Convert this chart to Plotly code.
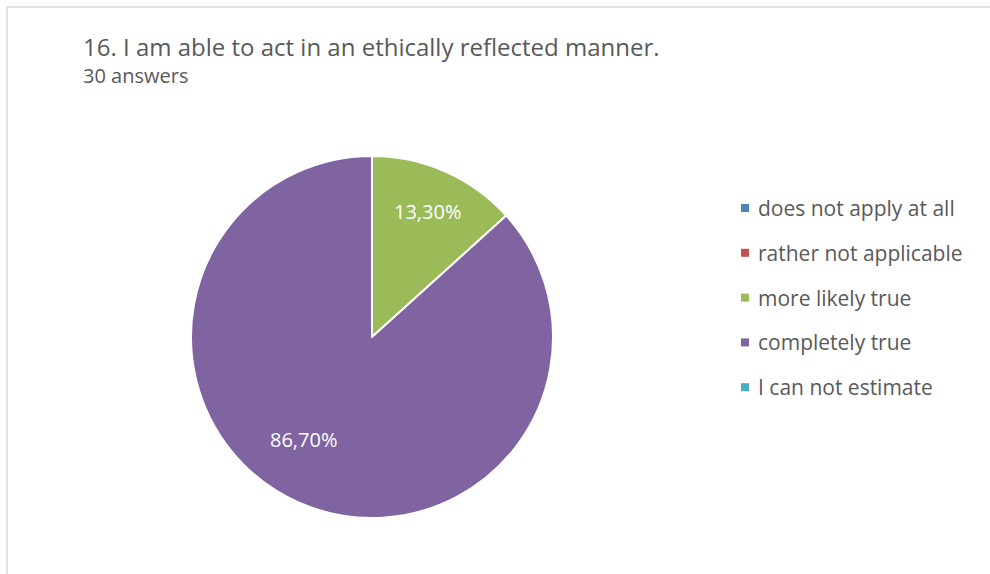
import math
import plotly.graph_objects as go

W, H = 990, 574

title = "16. I am able to act in an ethically reflected manner."
subtitle = "30 answers"
categories = ["does not apply at all", "rather not applicable",
              "more likely true", "completely true", "I can not estimate"]
shares = [0.0, 0.0, 13.3, 86.7, 0.0]
colors = ["#4F81BD", "#C0504D", "#9BBB59", "#8064A2", "#4BACC6"]

FONT = "Open Sans"
TEXT = "#595959"

# pie geometry in pixels
cx, cy, r = 372, 337, 181
# data label placement per slice: (radius fraction, angle nudge in degrees)
label_place = [(0.7, 0), (0.7, 0), (0.76, 0), (0.68, 10), (0.7, 0)]


def px(x):
    return x / W


def py(y):
    return 1 - y / H


def fmt(v):
    return ("%.2f%%" % v).replace(".", ",")


fig = go.Figure(go.Pie(
    labels=categories,
    values=shares,
    marker=dict(colors=colors, line=dict(color="white", width=2)),
    sort=False,
    direction="clockwise",
    rotation=0,
    textinfo="none",
    domain=dict(x=[px(cx - r), px(cx + r)], y=[py(cy + r), py(cy - r)]),
    showlegend=False,
    hoverinfo="label+percent",
))

shapes = [dict(type="rect", xref="paper", yref="paper",
               x0=px(7), x1=px(W + 20), y0=py(H + 20), y1=py(7),
               line=dict(color="#D9D9D9", width=1.5), fillcolor="rgba(0,0,0,0)")]

annotations = [
    dict(text=title, x=px(81), y=py(46), xref="paper", yref="paper",
         xanchor="left", yanchor="middle", showarrow=False,
         font=dict(family=FONT, size=24, color=TEXT)),
    dict(text=subtitle, x=px(81), y=py(75), xref="paper", yref="paper",
         xanchor="left", yanchor="middle", showarrow=False,
         font=dict(family=FONT, size=20, color=TEXT)),
]

# data labels at each slice's mid angle (clockwise from 12 o'clock)
total = sum(shares)
start = 0.0
for v, (frac, nudge) in zip(shares, label_place):
    sweep = 360.0 * v / total
    if v > 0:
        a = math.radians(start + sweep / 2 + nudge)
        lx = cx + frac * r * math.sin(a)
        ly = cy - frac * r * math.cos(a)
        annotations.append(dict(text=fmt(v), x=px(lx), y=py(ly), xref="paper", yref="paper",
                                xanchor="center", yanchor="middle", showarrow=False,
                                font=dict(family=FONT, size=20, color="white")))
    start += sweep

# legend: square swatch + label per category
row0, step = 208, 44.8
for i, (cat, col) in enumerate(zip(categories, colors)):
    yc = row0 + i * step
    shapes.append(dict(type="rect", xref="paper", yref="paper",
                       x0=px(741), x1=px(749), y0=py(yc + 4), y1=py(yc - 4),
                       line=dict(width=0), fillcolor=col))
    annotations.append(dict(text=cat, x=px(756), y=py(yc), xref="paper", yref="paper",
                            xanchor="left", yanchor="middle", showarrow=False,
                            font=dict(family=FONT, size=21, color=TEXT)))

fig.update_layout(
    width=W, height=H,
    margin=dict(l=0, r=0, t=0, b=0),
    paper_bgcolor="white",
    plot_bgcolor="white",
    shapes=shapes,
    annotations=annotations,
)

fig.write_html("out.html")
